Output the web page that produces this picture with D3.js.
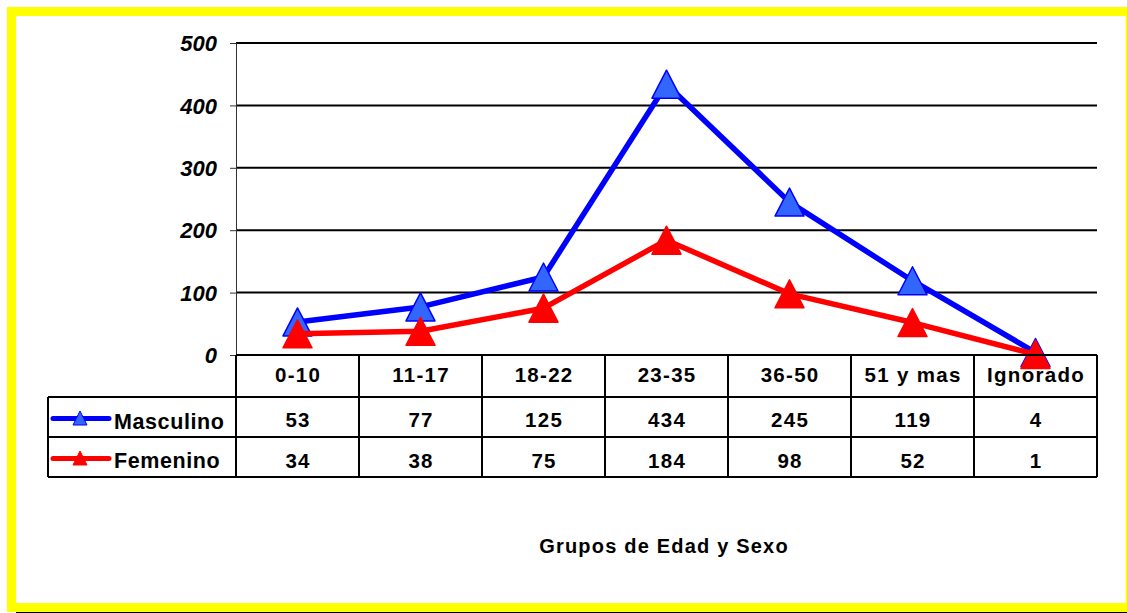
<!DOCTYPE html>
<html><head><meta charset="utf-8">
<script src="https://cdn.jsdelivr.net/npm/d3@7"></script>
<style>body{margin:0;background:#fff}svg{display:block}</style>
</head><body>
<script>
const categories = ["0-10","11-17","18-22","23-35","36-50","51 y mas","Ignorado"];
const masculino = [53,77,125,434,245,119,4];
const femenino = [34,38,75,184,98,52,1];
const yTicks = [0,100,200,300,400,500];
const seriesNames = ["Masculino","Femenino"];
const xTitle = "Grupos de Edad y Sexo";

(function(){
const W=1127,H=613;
const svg=d3.select("body").append("svg").attr("width",W).attr("height",H);
const font="Liberation Sans, Arial, sans-serif";

// frame
svg.append("rect").attr("x",11.5).attr("y",11.5).attr("width",1118.7).attr("height",596)
  .attr("fill","#fff").attr("stroke","#ffff00").attr("stroke-width",9);
svg.append("line").attr("x1",16).attr("x2",W).attr("y1",612.5).attr("y2",612.5).attr("stroke","#000").attr("stroke-width",1);

const pl=236,pr=1097,pt=43,pb=355;
const x=d3.scaleBand().domain(categories).range([pl,pr]);
const y=d3.scaleLinear().domain([0,500]).range([pb,pt]);
const cx=i=>x(categories[i])+x.bandwidth()/2;

// gridlines
svg.append("g").selectAll("line").data(yTicks).join("line")
  .attr("x1",pl).attr("x2",pr).attr("y1",d=>y(d)).attr("y2",d=>y(d))
  .attr("stroke","#000").attr("stroke-width",2);
// y axis
const yAxis=d3.axisLeft(y).tickValues(yTicks).tickSize(6).tickPadding(13).tickFormat(d3.format("d"));
const ga=svg.append("g").attr("transform",`translate(${pl},0)`).call(yAxis);
ga.select(".domain").attr("stroke","#333").attr("stroke-width",1);
ga.selectAll(".tick line").attr("stroke","#333");
ga.selectAll("text").attr("font-family",font).attr("font-size",22).attr("font-weight","bold")
  .attr("font-style","italic").attr("fill","#000").attr("dy","0.35em");

// custom triangle: width w, height h, centred on point
function triPath(w,h){return `M0,${-h/2}L${w/2},${h/2}L${-w/2},${h/2}Z`;}

// lines
const line=d3.line().x((d,i)=>cx(i)).y(d=>y(d));
function drawSeries(vals,lc,fc){
  svg.append("path").datum(vals).attr("d",line).attr("fill","none").attr("stroke",lc)
    .attr("stroke-width",5.5).attr("stroke-linejoin","round");
  svg.append("g").selectAll("path").data(vals).join("path")
    .attr("d",triPath(29,28)).attr("transform",(d,i)=>`translate(${cx(i)},${y(d)})`)
    .attr("fill",fc).attr("stroke",lc).attr("stroke-width",1.5).attr("stroke-linejoin","round");
}
drawSeries(masculino,"#0000ff","#3366ff");
drawSeries(femenino,"#ff0000","#ff0000");

// data table
const tbl=svg.append("g").attr("stroke","#000").attr("stroke-width",2).attr("fill","none");
tbl.append("line").attr("x1",pl).attr("x2",pr).attr("y1",355).attr("y2",355);
tbl.append("line").attr("x1",48).attr("x2",pr).attr("y1",397).attr("y2",397);
tbl.append("line").attr("x1",48).attr("x2",pr).attr("y1",437).attr("y2",437);
tbl.append("line").attr("x1",48).attr("x2",pr).attr("y1",477).attr("y2",477);
tbl.append("line").attr("x1",48).attr("x2",48).attr("y1",397).attr("y2",477);
tbl.selectAll(".v").data(categories.map(c=>x(c)).concat([pr])).join("line")
  .attr("x1",d=>d).attr("x2",d=>d).attr("y1",355).attr("y2",477);

const tx=svg.append("g").attr("font-family",font).attr("font-weight","bold").attr("font-size",20.5)
  .attr("letter-spacing","1.3px").attr("text-anchor","middle").attr("fill","#000");
tx.selectAll(".c").data(categories).join("text").attr("x",(d,i)=>cx(i)+0.6).attr("y",382).text(d=>d);
tx.selectAll(".m").data(masculino).join("text").attr("x",(d,i)=>cx(i)+0.6).attr("y",427).text(d=>d);
tx.selectAll(".f").data(femenino).join("text").attr("x",(d,i)=>cx(i)+0.6).attr("y",467.5).text(d=>d);

// legend keys
const legCols=[["#0000ff","#3366ff"],["#ff0000","#ff0000"]];
seriesNames.forEach((n,i)=>{
  const cy=[418.5,458.5][i];
  svg.append("line").attr("x1",53).attr("x2",109).attr("y1",cy).attr("y2",cy)
    .attr("stroke",legCols[i][0]).attr("stroke-width",5).attr("stroke-linecap","round");
  svg.append("path").attr("d",triPath(14,14))
    .attr("transform",`translate(80,${cy-0.5})`).attr("fill",legCols[i][1]).attr("stroke",legCols[i][0]).attr("stroke-width",1);
  svg.append("text").attr("x",114).attr("y",[429.3,468.3][i]).attr("font-family",font).attr("font-weight","bold")
    .attr("font-size",21.5).attr("letter-spacing","0.6px").text(n);
});

svg.append("text").attr("x",664).attr("y",552.7).attr("text-anchor","middle").attr("font-family",font)
  .attr("font-weight","bold").attr("font-size",20).attr("letter-spacing","1.2px").text(xTitle);
})();
</script>
</body></html>
